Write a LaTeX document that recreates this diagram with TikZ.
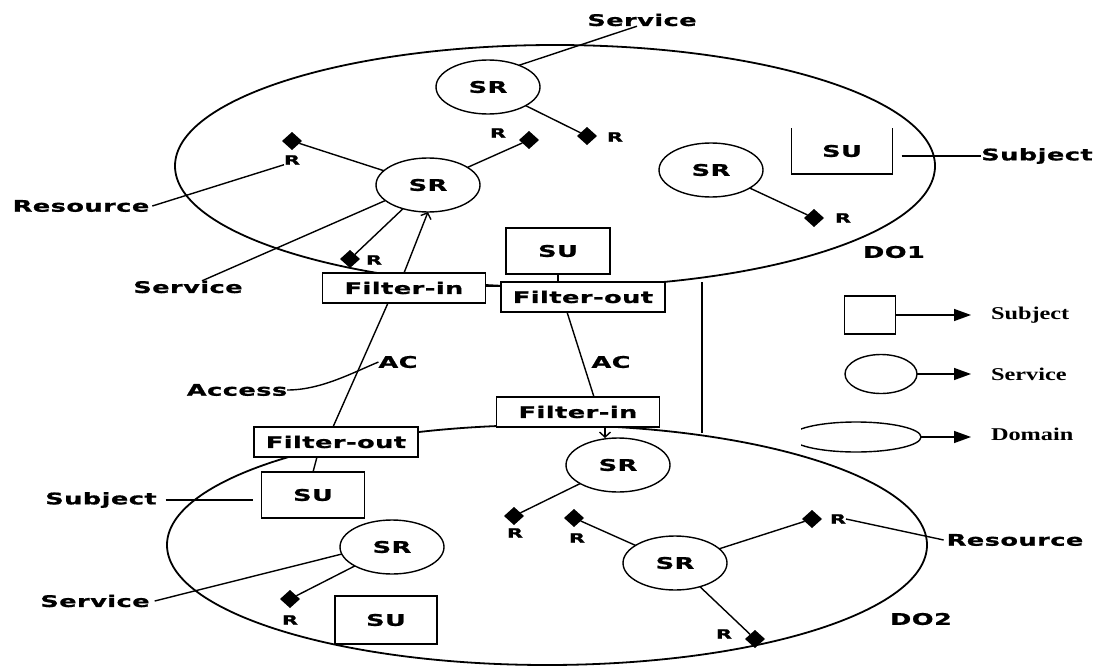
\documentclass[tikz,border=0pt]{standalone}
\usepackage{fontspec}
\newfontfamily\sansb{DejaVu Sans}[FakeStretch=1.6,LetterSpace=3,FakeBold=1]
\newfontfamily\serb{Liberation Serif}[FakeStretch=1.35]
\usetikzlibrary{shapes.geometric,arrows.meta}
\begin{document}
\begin{tikzpicture}[x=1pt,y=-1pt,
  every node/.style={inner sep=0pt, outer sep=0pt},
  lbl/.style={font=\sansb\bfseries\fontsize{16}{18}\selectfont},
  rlbl/.style={font=\sansb\bfseries\fontsize{13}{15}\selectfont},
  legtxt/.style={font=\serb\bfseries\fontsize{18}{20}\selectfont, anchor=west},
  domshape/.style={ellipse, draw, line width=1.8pt, minimum width=760pt, minimum height=242pt},
  srvshape/.style={ellipse, draw, line width=1.4pt, minimum width=104pt, minimum height=54pt, lbl},
  fbox/.style={rectangle, draw, fill=white, line width=1.6pt, minimum width=163pt, minimum height=30pt, lbl},
  subox/.style={rectangle, draw, fill=white, line width=1.6pt, minimum width=103pt, minimum height=46pt, lbl},
  resdia/.style={diamond, fill=black, minimum width=20pt, minimum height=18pt},
  conn/.style={line width=1.4pt},
  arrline/.style={conn, -{Straight Barb[length=5pt,width=11pt]}},
  legarr/.style={line width=1.4pt, -{Triangle[length=17pt,width=12pt]}}
]
\fill[white] (0,0) rectangle (1102,669);
\useasboundingbox (0,0) rectangle (1102,669);

% domains
\node[domshape] (do1) at (555,166) {};
\node[domshape, minimum height=240pt] (do2) at (547,545) {};
\node[lbl] (do1l) at (894,252) {DO1};
\node[lbl] (do2l) at (921,619) {DO2};

% services
\node[srvshape] (sr1) at (488,87) {SR};
\node[srvshape] (sr2) at (428,185) {SR};
\node[srvshape] (sr3) at (711,170) {SR};
\node[srvshape] (sr4) at (618,465) {SR};
\node[srvshape] (sr5) at (392,547) {SR};
\node[srvshape] (sr6) at (675,563) {SR};

% resources
\node[resdia] (d1) at (587,136) {};  \node[rlbl] (r1) at (615,137) {R};
\node[resdia] (d2) at (292,141) {};  \node[rlbl] (r2) at (292,160) {R};
\node[resdia] (d3) at (529,140) {};  \node[rlbl] (r3) at (498,133) {R};
\node[resdia] (d4) at (350,259) {};  \node[rlbl] (r4) at (374,260) {R};
\node[resdia] (d5) at (814,218) {};  \node[rlbl] (r5) at (843,218) {R};
\node[resdia] (d6) at (514,516) {};  \node[rlbl] (r6) at (515,533) {R};
\node[resdia] (d7) at (574,518) {};  \node[rlbl] (r7) at (577,538) {R};
\node[resdia] (d8) at (812,519) {};  \node[rlbl] (r8) at (838,519) {R};
\node[resdia] (d9) at (755,639) {};  \node[rlbl] (r9) at (724,634) {R};
\node[resdia] (d10) at (290,599) {}; \node[rlbl] (r10) at (290,620) {R};

% subjects (open box in DO1)
\node[minimum width=101pt, minimum height=46pt, lbl] (su0) at (842,151) {SU};
\draw[line width=1.6pt] (su0.north west) -- (su0.south west) -- (su0.south east) -- (su0.north east);

% filters and subjects
\node[fbox] (fin1) at (404,288) {Filter-in};
\node[fbox, minimum width=164pt] (fout1) at (583,297) {Filter-out};
\node[subox, minimum width=104pt] (su1) at (558,251) {SU};
\node[fbox, minimum width=164pt] (fout2) at (336,442) {Filter-out};
\node[fbox] (fin2) at (578,412) {Filter-in};
\node[subox] (su2) at (313,495) {SU};
\node[subox, minimum width=102pt, minimum height=48pt] (su3) at (386,620) {SU};

% labels
\node[lbl] (srvt) at (642,20) {Service};
\node[lbl] (res1) at (81,206) {Resource};
\node[lbl] (srv2) at (188,287) {Service};
\node[lbl] (subj1) at (1037,156) {Subject};
\node[lbl] (ac1) at (398,362) {AC};
\node[lbl] (ac2) at (611,362) {AC};
\node[lbl] (acc) at (237,390) {Access};
\node[lbl] (subj2) at (101,500) {Subject};
\node[lbl] (srv3) at (95,601) {Service};
\node[lbl] (res2) at (1015,540) {Resource};

% resource links
\draw[conn] (sr1) -- (d1);
\draw[conn] (sr2) -- (d2);
\draw[conn] (sr2) -- (d3);
\draw[conn] (sr2) -- (d4);
\draw[conn] (sr3) -- (d5);
\draw[conn] (sr4) -- (d6);
\draw[conn] (sr6) -- (d7);
\draw[conn] (sr6) -- (d8);
\draw[conn] (sr6) -- (d9);
\draw[conn] (sr5) -- (d10);

% filter links
\draw[conn] ([yshift=2pt]fin1.east) -- ([yshift=2pt]fin1.east -| fout1.west);
\draw[conn] (su1.south) -- (su1.south |- fout1.north);
\draw[arrline] (fin1.north) -- (sr2.south);
\draw[conn] ([xshift=-16pt]fin1.south) -- ([xshift=-3pt]fout2.north);
\draw[conn] ([xshift=-16pt]fout1.south) -- ([xshift=16pt]fin2.north);
\draw[arrline] ([xshift=27pt]fin2.south) -- ([xshift=-13pt]sr4.north);
\draw[conn] ([xshift=-19pt]fout2.south) -- (su2.north);
\coordinate (vtop) at (702,282);
\coordinate (vbot) at (702,433);
\draw[conn] (vtop) -- (vbot);

% label leaders
\draw[conn] ([xshift=-5pt]srvt.south) -- (sr1.35);
\draw[conn] ([xshift=3pt]res1.east) -- (r2.south west);
\draw[conn] ([xshift=14pt]srv2.north) -- (sr2.200);
\draw[conn] ([xshift=9pt,yshift=-5pt]su0.east) -- (subj1.west);
\draw[conn] (acc.east) .. controls (320,390) and (350,374) .. (ac1.west);
\draw[conn] ([xshift=9pt]subj2.east) -- ([xshift=-9pt]su2.west |- subj2.east);
\draw[conn] ([xshift=5pt]srv3.east) -- (sr5.188);
\draw[conn] ([xshift=-3pt]res2.west) -- (r8.east);

% legend
\node[draw, line width=1.4pt, minimum width=51pt, minimum height=38pt] (lsu) at (870,315) {};
\node[ellipse, draw, line width=1.4pt, minimum width=72pt, minimum height=39pt] (lsr) at (881,374) {};
\begin{scope}
\clip (801,400) rectangle (940,470);
\node[ellipse, draw, line width=1.4pt, minimum width=130pt, minimum height=30pt] (ldom) at (856,437) {};
\end{scope}
\node[legtxt] (lsut) at (991,315) {Subject};
\node[legtxt] (lsrt) at (991,374) {Service};
\node[legtxt] (ldot) at (991,434) {Domain};
\draw[legarr] (lsu.east) -- ([xshift=-20pt]lsut.west);
\draw[legarr] (lsr.east) -- ([xshift=-20pt]lsrt.west |- lsr.east);
\draw[legarr] (ldom.east) -- ([xshift=-20pt]ldot.west |- ldom.east);
\end{tikzpicture}
\end{document}
